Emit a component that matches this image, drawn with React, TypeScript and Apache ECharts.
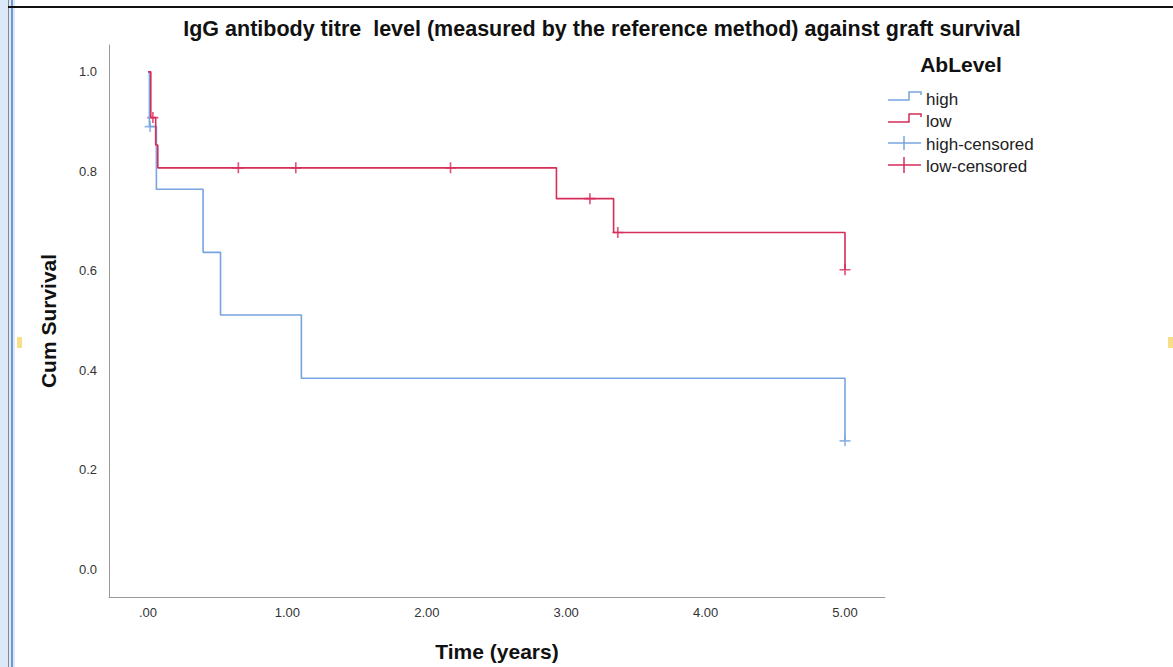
import React, { useEffect, useRef } from "react";
import * as echarts from "echarts";

// ---- data ----
const xTicks = [0, 1, 2, 3, 4, 5];
const yTicks = [0, 0.2, 0.4, 0.6, 0.8, 1.0];

const highTimes = [0, 0.01, 0.06, 0.395, 0.52, 1.1, 5.0];
const highSurv = [1.0, 0.89, 0.764, 0.637, 0.511, 0.384, 0.258];
const highCensTimes = [0.015, 5.0];
const highCensSurv = [0.89, 0.258];

const lowTimes = [0, 0.02, 0.055, 0.07, 2.93, 3.34, 5.0];
const lowSurv = [1.0, 0.908, 0.853, 0.807, 0.745, 0.677, 0.602];
const lowCensTimes = [0.035, 0.648, 1.06, 2.17, 3.17, 3.37, 5.0];
const lowCensSurv = [0.908, 0.807, 0.807, 0.807, 0.745, 0.677, 0.602];

const legendNames = ["high", "low", "high-censored", "low-censored"];

const BLUE = "#77a4e0";
const RED = "#d62d5a";
const FONT = "'Liberation Sans', Arial, sans-serif";
const CROSS =
  "path://M4.25,0H5.75V4.25H10V5.75H5.75V10H4.25V5.75H0V4.25H4.25Z";

export default function App() {
  const ref = useRef<HTMLDivElement>(null);
  useEffect(() => {
    if (!ref.current) return;
    const chart = echarts.init(ref.current, null, { renderer: "svg" });
    const pair = (t: number[], s: number[]) => t.map((v, i) => [v, s[i]]);
    const legendRows = [99, 121, 144, 166];
    const option: any = {
      animation: false,
      backgroundColor: "#ffffff",
      textStyle: { fontFamily: FONT },
      title: {
        text: "IgG antibody titre  level (measured by the reference method) against graft survival",
        left: 597,
        textAlign: "center",
        top: 13,
        textStyle: { fontFamily: FONT, fontWeight: "bold", fontSize: 21.5, color: "#111" },
      },
      grid: { left: 109, right: 288, top: 45, bottom: 69 },
      xAxis: {
        type: "value",
        min: -0.28,
        max: 5.287,
        name: "Time (years)",
        nameLocation: "middle",
        nameGap: 44,
        nameTextStyle: { fontFamily: FONT, fontWeight: "bold", fontSize: 21, color: "#111" },
        axisLine: { show: true, onZero: false, lineStyle: { color: "#9a9a9a", width: 1 } },
        axisTick: { show: false },
        splitLine: { show: false },
        axisLabel: {
          customValues: xTicks,
          formatter: (v: number) => (v === 0 ? ".00" : v.toFixed(2)),
          fontFamily: FONT,
          fontSize: 13,
          color: "#333",
          margin: 9,
        },
      },
      yAxis: {
        type: "value",
        min: -0.056,
        max: 1.054,
        name: "Cum Survival",
        nameLocation: "middle",
        nameGap: 50,
        nameTextStyle: { fontFamily: FONT, fontWeight: "bold", fontSize: 21, color: "#111" },
        axisLine: { show: true, onZero: false, lineStyle: { color: "#9a9a9a", width: 1 } },
        axisTick: { show: false },
        splitLine: { show: false },
        axisLabel: {
          customValues: yTicks,
          formatter: (v: number) => v.toFixed(1),
          fontFamily: FONT,
          fontSize: 13,
          color: "#333",
          margin: 12,
        },
      },
      series: [
        {
          name: legendNames[0],
          type: "line",
          step: "end",
          showSymbol: false,
          data: pair(highTimes, highSurv),
          lineStyle: { color: BLUE, width: 1.6 },
          itemStyle: { color: BLUE },
        },
        {
          name: legendNames[1],
          type: "line",
          step: "end",
          showSymbol: false,
          data: pair(lowTimes, lowSurv),
          lineStyle: { color: RED, width: 1.6 },
          itemStyle: { color: RED },
        },
        {
          name: legendNames[2],
          type: "scatter",
          symbol: CROSS,
          symbolSize: 11,
          data: pair(highCensTimes, highCensSurv),
          itemStyle: { color: BLUE },
        },
        {
          name: legendNames[3],
          type: "scatter",
          symbol: CROSS,
          symbolSize: 11,
          data: pair(lowCensTimes, lowCensSurv),
          itemStyle: { color: RED },
        },
      ],
      graphic: [
        // window frame decorations
        { type: "rect", shape: { x: 0, y: 0, width: 15, height: 667 }, style: { fill: "#dbe9f8" }, silent: true },
        { type: "rect", shape: { x: 11, y: 0, width: 2, height: 667 }, style: { fill: "#6d9bd1" }, silent: true },
        { type: "rect", shape: { x: 8, y: 0, width: 1, height: 667 }, style: { fill: "#8a8a8a" }, silent: true },
        { type: "rect", shape: { x: 8, y: 6, width: 1165, height: 2 }, style: { fill: "#111" }, silent: true },
        { type: "rect", shape: { x: 17, y: 337, width: 5, height: 11 }, style: { fill: "#f7df8a" }, silent: true },
        { type: "rect", shape: { x: 1168, y: 337, width: 5, height: 11 }, style: { fill: "#f7df8a" }, silent: true },
        // legend
        {
          type: "text",
          x: 961,
          y: 64,
          style: {
            text: "AbLevel",
            fontFamily: FONT,
            fontWeight: "bold",
            fontSize: 21,
            fill: "#111",
            align: "center",
            verticalAlign: "middle",
          },
        },
        {
          type: "polyline",
          shape: { points: [[888, 100], [909, 100], [909, 92], [921, 92], [921, 95]] },
          style: { stroke: BLUE, lineWidth: 1.5, fill: "none" },
        },
        {
          type: "polyline",
          shape: { points: [[888, 122], [909, 122], [909, 114], [921, 114], [921, 117]] },
          style: { stroke: RED, lineWidth: 1.5, fill: "none" },
        },
        { type: "line", shape: { x1: 888, y1: 143, x2: 921, y2: 143 }, style: { stroke: BLUE, lineWidth: 1.5 } },
        { type: "line", shape: { x1: 904, y1: 136, x2: 904, y2: 150 }, style: { stroke: BLUE, lineWidth: 1.5 } },
        { type: "line", shape: { x1: 888, y1: 165, x2: 921, y2: 165 }, style: { stroke: RED, lineWidth: 1.5 } },
        { type: "line", shape: { x1: 904, y1: 157, x2: 904, y2: 173 }, style: { stroke: RED, lineWidth: 1.5 } },
        ...legendNames.map((n, i) => ({
          type: "text",
          x: 926,
          y: legendRows[i],
          style: {
            text: n,
            fontFamily: FONT,
            fontSize: 17,
            fill: "#222",
            align: "left",
            verticalAlign: "middle",
          },
        })),
      ],
    };
    chart.setOption(option);
    return () => chart.dispose();
  }, []);
  return (
    <div
      ref={ref}
      style={{ position: "absolute", left: 0, top: 0, width: 1173, height: 667, background: "#fff" }}
    />
  );
}
